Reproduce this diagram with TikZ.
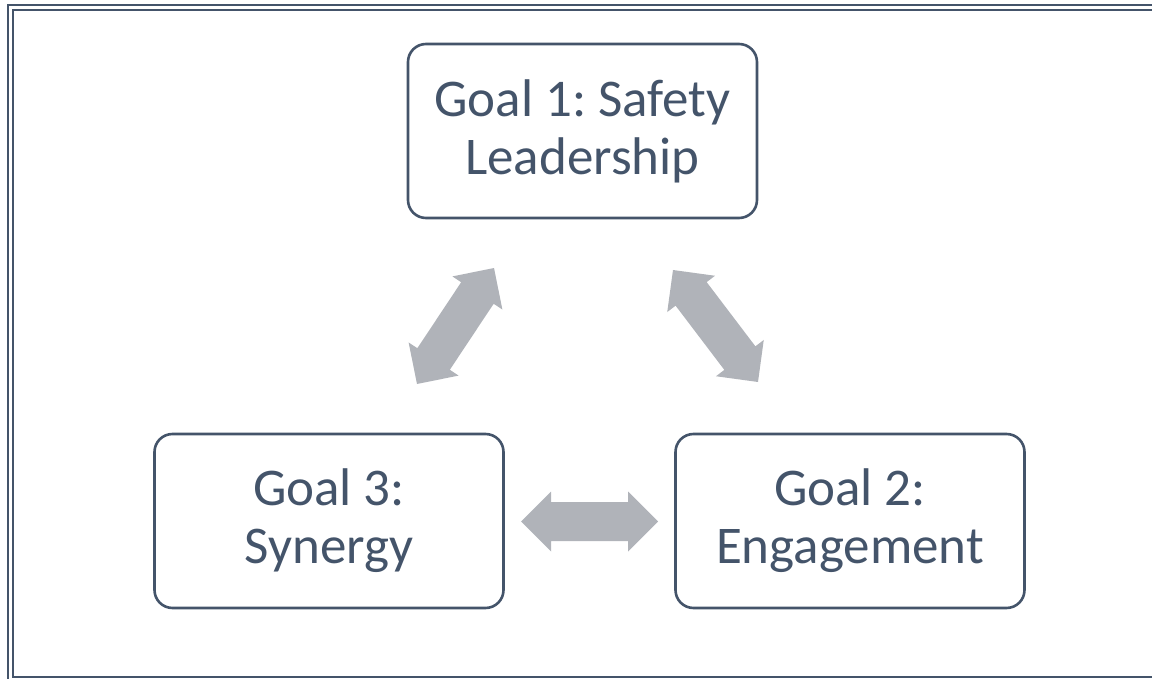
\documentclass[tikz,border=0pt]{standalone}
\usepackage{fontspec}
\setmainfont{Carlito}
\usetikzlibrary{calc}
\frenchspacing
\definecolor{slate}{HTML}{44546A}
\definecolor{arrowgray}{HTML}{B0B3B9}
\tikzset{
  goalbox/.style={draw=slate, line width=2.6pt, rounded corners=18pt,
    minimum width=349pt, minimum height=174pt, align=center,
    text=slate, font=\fontsize{53pt}{58pt}\selectfont, inner sep=0pt},
  framepen/.style={draw=slate, line width=2.4pt},
  arrowfill/.style={fill=arrowgray}
}
% two-headed block arrow between two coordinates
\newcommand\blockarrow[2]{%
  \path ($(#1)!30pt!(#2)$) coordinate (h1) ($(#2)!30pt!(#1)$) coordinate (h2);
  \fill[arrowfill] (#1) -- ($(h1)!30pt!90:(#2)$) -- ($(h1)!19.5pt!90:(#2)$)
    -- ($(h2)!19.5pt!-90:(#1)$) -- ($(h2)!30pt!-90:(#1)$) -- (#2)
    -- ($(h2)!30pt!90:(#1)$) -- ($(h2)!19.5pt!90:(#1)$)
    -- ($(h1)!19.5pt!-90:(#2)$) -- ($(h1)!30pt!-90:(#2)$) -- cycle;
}
\begin{document}
\begin{tikzpicture}[x=1pt,y=-1pt]
\useasboundingbox (0,0) rectangle (1152,679);
% double frame
\draw[framepen] (8,5) rectangle (1162,692);
\draw[framepen] (13,10) rectangle (1157,677);
% goals
\node[goalbox] (g1) at (582.5,131) {Goal 1: Safety\\Leadership};
\node[goalbox] (g3) at (329,521) {Goal 3:\\Synergy};
\node[goalbox] (g2) at (850,521) {Goal 2:\\Engagement};
% arrow end points
\coordinate (a1) at (417,384);
\coordinate (a2) at (494,268);
\coordinate (b1) at (673,270);
\coordinate (b2) at (758,382);
\coordinate (c1) at (521,521.5);
\coordinate (c2) at (658,521.5);
\blockarrow{a1}{a2}
\blockarrow{b1}{b2}
\blockarrow{c1}{c2}
\end{tikzpicture}
\end{document}
